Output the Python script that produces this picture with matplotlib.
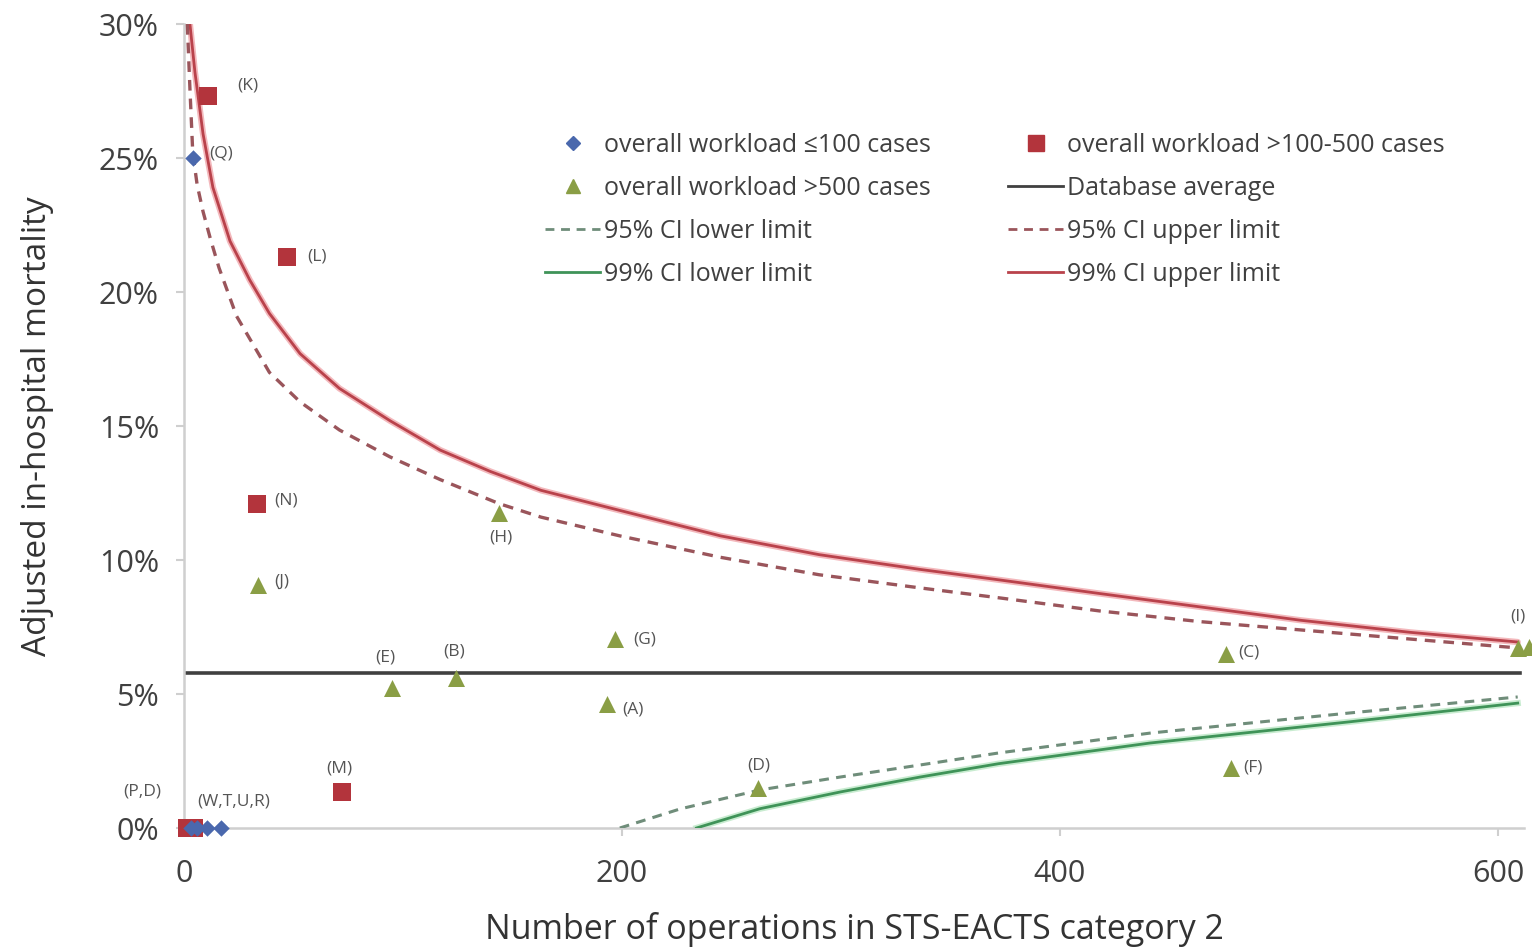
import matplotlib
matplotlib.use("Agg")
import matplotlib.pyplot as plt
from matplotlib.lines import Line2D

plt.rcParams['font.family'] = ['Open Sans', 'DejaVu Sans']

# ---- data ----
# overall workload <=100 cases (blue diamonds)
small_n = [4, 3, 6, 10.5, 17]
small_y = [25.0, 0, 0, 0, 0]
# overall workload >100-500 cases (red squares)
mid_n = [11, 47, 33.3, 72, 1.2, 4.5]
mid_y = [27.3, 21.3, 12.1, 1.35, 0, 0]
# overall workload >500 cases (green triangles)
large_n = [33.7, 95, 124, 144, 197, 193, 262, 476, 478, 609, 614]
large_y = [9.05, 5.22, 5.6, 11.75, 7.05, 4.63, 1.49, 6.49, 2.24, 6.72, 6.75]

# point labels: text, n, y, dx px, dy px, alignment
labels = [
    ("(K)", 11, 27.3, 29, 11, 'left'),
    ("(Q)", 4, 25.0, 16, 5, 'left'),
    ("(L)", 47, 21.3, 20, 1, 'left'),
    ("(N)", 33.3, 12.1, 17, 3, 'left'),
    ("(J)", 33.7, 9.05, 16, 4, 'left'),
    ("(H)", 144, 11.75, 2, -24, 'center'),
    ("(E)", 95, 5.22, -7, 31, 'center'),
    ("(B)", 124, 5.6, -1, 26, 'center'),
    ("(G)", 197, 7.05, 18, 0, 'left'),
    ("(A)", 193, 4.63, 16, -6, 'left'),
    ("(D)", 262, 1.49, 1, 23, 'center'),
    ("(C)", 476, 6.49, 12, 2, 'left'),
    ("(F)", 478, 2.24, 12, 0, 'left'),
    ("(I)", 609, 6.72, 0, 31, 'center'),
    ("(M)", 72, 1.35, -2, 23, 'center'),
    ("(P,D)", 0, 0, -42, 37, 'center'),
    ("(W,T,U,R)", 4, 0, 41, 26, 'center'),
]

# database average
avg_n = [0, 610]
avg_y = [5.78, 5.78]

# control limits
up99_n = [2.7, 5, 8.7, 13.2, 21, 30, 39, 53, 71, 94, 117, 140, 163, 199,
          245, 290, 336, 373, 418, 464, 510, 560, 609]
up99_y = [30.0, 28.2, 25.9, 23.9, 21.9, 20.45, 19.2, 17.7, 16.4, 15.2, 14.1,
          13.3, 12.6, 11.85, 10.9, 10.2, 9.65, 9.25, 8.75, 8.25, 7.75, 7.3, 6.94]
up95_n = [1.5, 2.7, 4, 6, 8.7, 12, 16, 24, 39, 53, 71, 94, 117, 144, 163,
          199, 245, 290, 336, 373, 418, 464, 510, 560, 609]
up95_y = [30.0, 27.6, 25.2, 24.0, 23.0, 22.0, 20.9, 19.1, 17.0, 15.9, 14.85,
          13.85, 13.0, 12.1, 11.6, 10.9, 10.1, 9.45, 8.96, 8.58, 8.1, 7.7,
          7.39, 7.05, 6.72]
lo95_n = [199, 226.5, 263, 299.5, 336, 372, 441, 532, 609]
lo95_y = [0.0, 0.71, 1.42, 1.9, 2.35, 2.8, 3.54, 4.29, 4.89]
lo99_n = [234, 263, 300, 336, 372, 441, 532, 609]
lo99_y = [0.0, 0.72, 1.35, 1.9, 2.4, 3.17, 3.96, 4.66]

xticks = [0, 200, 400, 600]
yticks = [0, 5, 10, 15, 20, 25, 30]

# ---- colours ----
c_blue = '#4a68ad'
c_red = '#b3343c'
c_green = '#8a9e45'
c_up99 = '#b9424b'
c_up95 = '#9a555b'
c_lo99 = '#3f9358'
c_lo95 = '#6f8d7a'
c_avg = '#404040'
dash = (0, (3.2, 2.4))

fig = plt.figure(figsize=(15.32, 9.48), dpi=100)
ax = fig.add_axes([184/1532, 1-828/948, (612*2.19)/1532, (828-24)/948])
ax.set_xlim(0, 612)
ax.set_ylim(0, 30)

ax.plot(avg_n, avg_y, color=c_avg, lw=2.6, zorder=2)
ax.plot(up99_n, up99_y, color='#f3b8bc', lw=4.5, zorder=2, solid_capstyle='round')
ax.plot(up99_n, up99_y, color=c_up99, lw=2.0, zorder=3)
ax.plot(up95_n, up95_y, color=c_up95, lw=2.4, ls=dash, zorder=3)
ax.plot(lo95_n, lo95_y, color=c_lo95, lw=2.2, ls=dash, zorder=3)
ax.plot(lo99_n, lo99_y, color='#c8ecd0', lw=4.5, zorder=2)
ax.plot(lo99_n, lo99_y, color=c_lo99, lw=2.0, zorder=3)

ax.scatter(large_n, large_y, marker='^', s=150, color=c_green, zorder=5, clip_on=False, linewidths=0)
ax.scatter(mid_n, mid_y, marker='s', s=170, color=c_red, zorder=5, clip_on=False, linewidths=0)
ax.scatter(small_n, small_y, marker='D', s=70, color=c_blue, zorder=6, clip_on=False, linewidths=0)

for t, x, y, dx, dy, ha in labels:
    ax.annotate(t, (x, y), xytext=(dx, dy), textcoords='offset pixels',
                ha=ha, va='center', fontsize=12.5, color='#555555', zorder=7,
                annotation_clip=False)

for s in ['top', 'right']:
    ax.spines[s].set_visible(False)
for s in ['left', 'bottom']:
    ax.spines[s].set_color('#cfcfcf')
    ax.spines[s].set_linewidth(1.8)

ax.set_xticks(xticks)
ax.set_xticklabels([str(v) for v in xticks])
ax.set_yticks(yticks)
ax.set_yticklabels([f"{v}%" for v in yticks])
ax.tick_params(axis='both', colors='#cfcfcf', labelcolor='#404040', labelsize=22,
               length=6, width=1.5, direction='out')
ax.tick_params(axis='x', pad=16)
ax.tick_params(axis='y', pad=12)

ax.set_xlabel("Number of operations in STS-EACTS category 2", fontsize=24.5,
              color='#333333', labelpad=17)
ax.set_ylabel("Adjusted in-hospital mortality", fontsize=24, color='#333333',
              labelpad=32)

handles = [
    Line2D([], [], ls='none', marker='D', color=c_blue, markersize=7),
    Line2D([], [], ls='none', marker='^', color=c_green, markersize=10),
    Line2D([], [], color=c_lo95, lw=2, ls=dash),
    Line2D([], [], color=c_lo99, lw=2),
    Line2D([], [], ls='none', marker='s', color=c_red, markersize=11),
    Line2D([], [], color=c_avg, lw=2),
    Line2D([], [], color=c_up95, lw=2, ls=dash),
    Line2D([], [], color=c_up99, lw=2),
]
names = ["overall workload \u2264100 cases", "overall workload >500 cases",
         "95% CI lower limit", "99% CI lower limit",
         "overall workload >100-500 cases", "Database average",
         "95% CI upper limit", "99% CI upper limit"]
leg = fig.legend(handles, names, ncol=2, loc='upper left',
                 bbox_to_anchor=(545/1532, 1-133/948), frameon=False,
                 fontsize=18, handlelength=2.2, handletextpad=0.15,
                 columnspacing=3.1, labelspacing=0.72, borderpad=0,
                 borderaxespad=0)
for t in leg.get_texts():
    t.set_color('#404040')

fig.savefig("out.png", dpi=100)
